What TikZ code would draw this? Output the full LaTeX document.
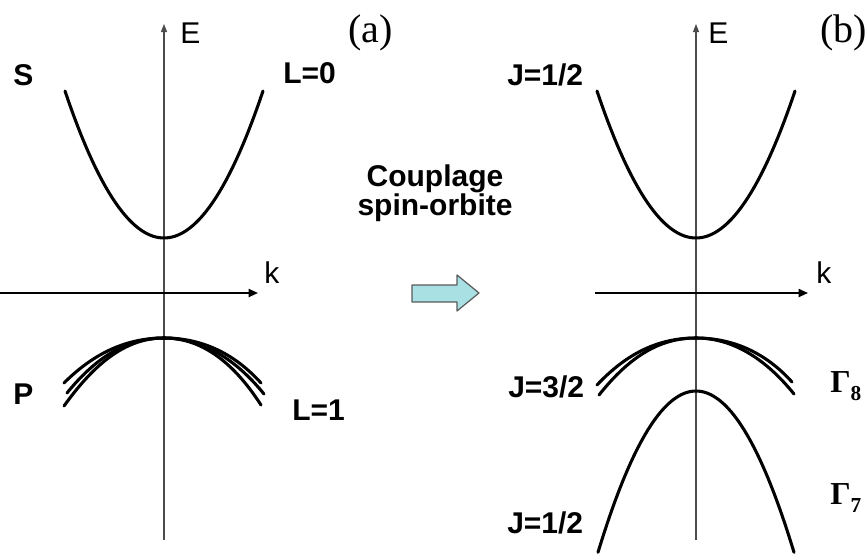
\documentclass[tikz,border=0pt]{standalone}
\usepackage{fontspec}
\setmainfont{Liberation Sans}
\newfontfamily\serifface{Liberation Serif}
\usetikzlibrary{arrows.meta}
\begin{document}
\begin{tikzpicture}[x=0.75pt,y=-0.75pt,
  band/.style={line width=2.3pt, line cap=round},
  vaxis/.style={line width=0.8pt, black!70, -{Triangle[length=6pt,width=4.5pt]}},
  haxis/.style={line width=1.4pt, black, -{Triangle[length=7pt,width=6pt]}},
  lbl/.style={font=\fontsize{22.5}{27}\selectfont\bfseries, anchor=base west, inner sep=0pt},
  axlbl/.style={font=\fontsize{22.5}{27}\selectfont, anchor=base west, inner sep=0pt},
  panel/.style={font=\serifface\fontsize{30}{34}\selectfont, anchor=base west, inner sep=0pt},
  gam/.style={font=\serifface\bfseries\fontsize{24}{27}\selectfont, anchor=base west, inner sep=0pt}]
\useasboundingbox (0,0) rectangle (867,557);
% ---------- panel (a) ----------
\coordinate (aB) at (164,540);
\coordinate (aT) at (164,24);
\coordinate (aL) at (0,293);
\coordinate (aR) at (258,293);
\draw[vaxis] (aB) -- (aT);
\draw[haxis] (aL) -- (aR);
\node[axlbl] (aE) at (180,43) {E};
\node[axlbl] (ak) at (264,283) {k};
\node[panel] (alab) at (348,42) {(a)};
\draw[band] plot[domain=65:263, samples=60] (\x, {238-0.015*(\x-164)^2});
\draw[band] (64,383) .. controls (95,352) and (128,338) .. (164,338) .. controls (200,338) and (233,352) .. (261,383);
\draw[band] (67,393) .. controls (97,356) and (128,338) .. (164,338) .. controls (200,338) and (234,357) .. (264,394);
\draw[band] (64,406) .. controls (97,360) and (128,338) .. (164,338) .. controls (200,338) and (232,360) .. (261,405);
\node[lbl] (S) at (13,85) {S};
\node[lbl] (L0) at (283,83) {L=0};
\node[lbl] (P) at (13,404) {P};
\node[lbl] (L1) at (292,420) {L=1};
% ---------- middle ----------
\node[font=\fontsize{22.5}{27}\selectfont\bfseries, inner sep=0pt, anchor=base] (c1) at (435,186) {Couplage};
\node[font=\fontsize{22.5}{27}\selectfont\bfseries, inner sep=0pt, anchor=base] (c2) at (435,215) {spin-orbite};
\draw[line width=0.9pt, black!65, fill={rgb,255:red,168;green,224;blue,228}, line join=round]
  (412,285) -- (457,285) -- (457,275) -- (479,293) -- (457,311) -- (457,302) -- (412,302) -- cycle;
% ---------- panel (b) ----------
\coordinate (bB) at (696,540);
\coordinate (bT) at (696,24);
\coordinate (bL) at (595,293);
\coordinate (bR) at (808,293);
\draw[vaxis] (bB) -- (bT);
\draw[haxis] (bL) -- (bR);
\node[axlbl] (bE) at (708,43) {E};
\node[axlbl] (bk) at (816,283) {k};
\node[panel] (blab) at (820,42) {(b)};
\draw[band] plot[domain=597:795, samples=60] (\x, {238-0.015*(\x-696)^2});
\draw[band] (597,385) .. controls (628,352) and (660,338) .. (696,338) .. controls (732,338) and (765,352) .. (792,382);
\draw[band] (599,395) .. controls (630,356) and (660,338) .. (696,338) .. controls (732,338) and (765,358) .. (794,394);
\draw[band] plot[domain=598:794, samples=60] (\x, {391+0.0168*(\x-696)^2});
\node[lbl] (J1) at (507,85) {J=1/2};
\node[lbl] (J3) at (508,397) {J=3/2};
\node[lbl] (J2) at (507,533) {J=1/2};
\node[gam] (G8) at (830,392) {Γ\raisebox{-6pt}{\fontsize{16}{18}\selectfont 8}};
\node[gam] (G7) at (830,504) {Γ\raisebox{-6pt}{\fontsize{16}{18}\selectfont 7}};
\end{tikzpicture}
\end{document}
